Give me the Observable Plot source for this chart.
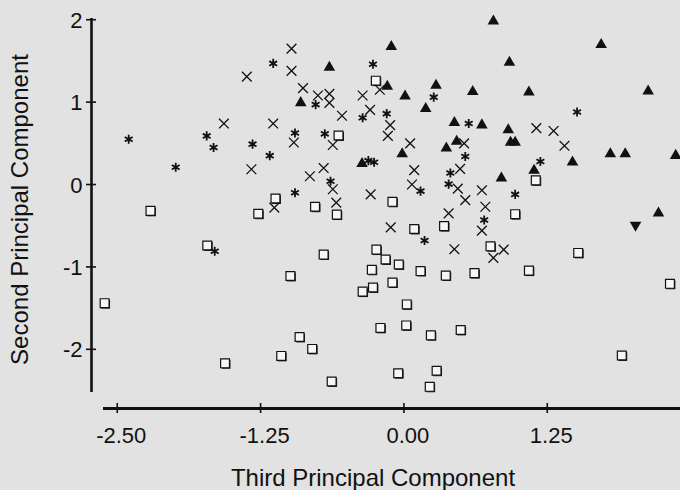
<!DOCTYPE html>
<html><head><meta charset="utf-8">
<script src="https://cdn.jsdelivr.net/npm/d3@7"></script>
<script src="https://cdn.jsdelivr.net/npm/@observablehq/plot@0.6"></script>
<style>
html,body{margin:0;padding:0;background:#e2e2e2;}
#chart{width:680px;height:490px;overflow:hidden;}
</style></head><body><div id="chart"></div>
<script>
// axis ticks and labels
const xTicks = [-2.5, -1.25, 0, 1.25];
const xTickLabels = ["-2.50", "-1.25", "0.00", "1.25"];
const yTicks = [-2, -1, 0, 1, 2];
const yTickLabels = ["-2", "-1", "0", "1", "2"];
const xTitle = "Third Principal Component";
const yTitle = "Second Principal Component";

// axis extents (data units)
const xDomain = [-2.7245, 2.412];
const yDomain = [-2.718, 2.039];
const xAxisExtent = [-2.62, 2.412];
const yAxisExtent = [-2.524, 2.015];

// groups: [third PC, second PC]
const asterisks = [[-2.40,0.55],[-1.72,0.59],[-1.66,0.45],[-1.99,0.21],[-1.14,1.47],[-0.27,1.46],[-0.77,0.97],[-0.36,0.81],[-0.95,0.625],[-0.69,0.615],[-1.32,0.49],[-1.17,0.35],[-0.31,0.29],[-0.26,0.27],[-0.64,0.04],[-0.95,-0.10],[0.26,1.06],[-0.15,0.86],[0.565,0.74],[0.535,0.34],[0.405,0.14],[0.145,-0.08],[0.39,0.005],[0.97,-0.12],[0.70,-0.43],[0.18,-0.68],[1.51,0.88],[1.19,0.28],[-1.65,-0.81]];
const crosses = [[-1.57,0.74],[-0.98,1.65],[-0.98,1.38],[-1.37,1.31],[-0.21,1.15],[-0.88,1.17],[-0.75,1.08],[-0.65,1.10],[-0.65,0.99],[-0.36,1.08],[-0.295,0.905],[-0.54,0.835],[-1.14,0.74],[-0.96,0.51],[-0.62,0.48],[-1.33,0.185],[-0.70,0.20],[-0.82,0.10],[-0.62,-0.057],[-0.29,-0.12],[-1.13,-0.28],[-0.59,-0.22],[-0.12,0.72],[-0.14,0.59],[0.054,0.50],[0.525,0.50],[0.09,0.175],[0.49,0.19],[0.07,0.00],[0.47,-0.05],[0.68,-0.07],[0.535,-0.19],[0.71,-0.27],[0.39,-0.35],[-0.115,-0.52],[0.68,-0.56],[0.44,-0.785],[0.87,-0.79],[0.78,-0.89],[1.155,0.685],[1.305,0.65],[1.40,0.47]];
const trianglesUp = [[-0.65,1.44],[-0.90,1.01],[-0.145,1.21],[0.78,2.00],[-0.11,1.69],[0.92,1.50],[0.01,1.09],[0.28,1.22],[0.60,1.145],[1.09,1.14],[0.19,0.94],[0.44,0.77],[0.68,0.74],[0.91,0.68],[0.93,0.53],[0.97,0.53],[0.46,0.54],[0.37,0.46],[-0.015,0.39],[0.85,0.095],[-0.365,0.27],[1.72,1.715],[2.13,1.15],[1.80,0.39],[1.93,0.39],[2.37,0.37],[1.47,0.29],[1.135,0.19],[2.22,-0.33]];
const trianglesDown = [[2.02,-0.51]];
const squares = [[-2.21,-0.32],[-1.715,-0.74],[-2.61,-1.44],[-1.56,-2.17],[-0.245,1.26],[-0.57,0.595],[-1.12,-0.17],[-1.27,-0.355],[-0.775,-0.27],[-0.585,-0.365],[-0.10,-0.21],[1.15,0.05],[0.97,-0.36],[0.09,-0.54],[0.35,-0.505],[-0.24,-0.79],[0.755,-0.75],[1.52,-0.83],[-0.16,-0.91],[-0.045,-0.97],[-0.28,-1.035],[0.145,-1.05],[0.365,-1.105],[0.615,-1.075],[1.09,-1.045],[2.32,-1.205],[-0.10,-1.19],[-0.27,-1.25],[-0.36,-1.30],[0.025,-1.455],[-0.205,-1.74],[0.02,-1.71],[0.235,-1.83],[0.495,-1.765],[1.90,-2.075],[-0.05,-2.29],[0.285,-2.26],[0.225,-2.455],[-0.70,-0.85],[-0.99,-1.11],[-0.91,-1.85],[-0.80,-1.995],[-1.07,-2.08],[-0.63,-2.39]];

const W = 680, H = 490, mL = 91, mR = 0, mT = 16, mB = 82;
const xPerPx = (xDomain[1] - xDomain[0]) / (W - mL - mR);
const yPerPx = (yDomain[1] - yDomain[0]) / (H - mT - mB);
const tickHalf = 5;

const px = d => d[0], py = d => d[1];
const font = "'Liberation Sans', Arial, Helvetica, sans-serif";

const chart = Plot.plot({
  width: W, height: H,
  marginLeft: mL, marginRight: mR, marginTop: mT, marginBottom: mB,
  style: {background: "transparent", fontFamily: font, color: "#111"},
  x: {domain: xDomain, axis: null},
  y: {domain: yDomain, axis: null},
  marks: [
    // axis lines
    Plot.ruleX([xDomain[0]], {y1: yAxisExtent[0], y2: yAxisExtent[1], stroke: "#111", strokeWidth: 2.6}),
    Plot.ruleY([yDomain[0]], {x1: xAxisExtent[0], x2: xAxisExtent[1], stroke: "#111", strokeWidth: 2.8}),
    // crossing tick marks
    Plot.ruleY(yTicks, {x1: xDomain[0] - tickHalf * xPerPx, x2: xDomain[0] + tickHalf * xPerPx, stroke: "#111", strokeWidth: 1.6}),
    Plot.ruleX(xTicks, {y1: yDomain[0] - tickHalf * yPerPx, y2: yDomain[0] + tickHalf * yPerPx, stroke: "#111", strokeWidth: 1.6}),
    // tick labels
    Plot.text(yTicks, {x: xDomain[0], y: d => d, text: (d, i) => yTickLabels[i], textAnchor: "end", dx: -9, dy: 1, fontSize: 22, fill: "#111"}),
    Plot.text(xTicks, {x: d => d, y: yDomain[0], text: (d, i) => xTickLabels[i], dx: 4, dy: 27, fontSize: 22, fill: "#111"}),
    // titles
    Plot.text([xTitle], {frameAnchor: "bottom", text: d => d, textAnchor: "middle", lineAnchor: "middle", dx: -13, dy: 70, fontSize: 24, fill: "#111", ariaLabel: "x-title"}),
    Plot.text([yTitle], {frameAnchor: "left", text: d => d, textAnchor: "middle", lineAnchor: "middle", rotate: -90, dx: -71, dy: -3, fontSize: 24, fill: "#111", ariaLabel: "y-title"}),
    // data points
    Plot.dot(squares, {x: px, y: py, symbol: "square", r: 5, fill: "#1a1a1a", stroke: "none", dx: 1, dy: 1}),
    Plot.dot(squares, {x: px, y: py, symbol: "square", r: 5, fill: "#f6f6f6", stroke: "#111", strokeWidth: 1.2}),
    Plot.dot(crosses, {x: px, y: py, symbol: "times", r: 4.5, fill: "none", stroke: "#111", strokeWidth: 1.3}),
    Plot.dot(asterisks, {x: px, y: py, symbol: "asterisk", r: 4.3, fill: "none", stroke: "#111", strokeWidth: 1.8}),
    Plot.dot(trianglesUp, {x: px, y: py, symbol: "triangle", r: 4.3, fill: "#111", stroke: "none", dy: 1.5}),
    Plot.dot(trianglesDown, {x: px, y: py, symbol: "triangle", rotate: 180, r: 4.3, fill: "#111", stroke: "none", dy: -1.5})
  ]
});
d3.select(chart).selectAll('g[aria-label="x-title"] text, g[aria-label="y-title"] text').attr("letter-spacing", "1.3px");
document.getElementById("chart").appendChild(chart);
</script>
</body></html>
